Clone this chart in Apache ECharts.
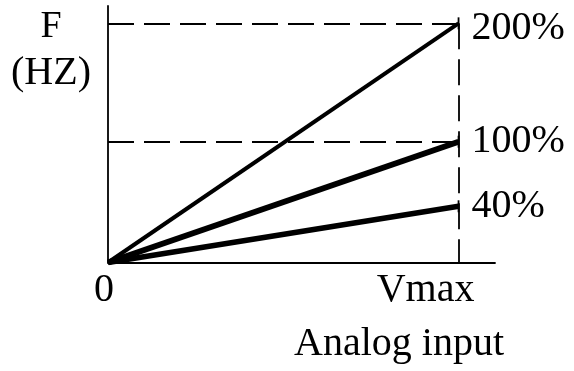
<!DOCTYPE html>
<html>
<head>
<meta charset="utf-8">
<script src="https://cdn.jsdelivr.net/npm/echarts@6/dist/echarts.min.js"></script>
<style>
  html, body { margin: 0; padding: 0; background: #fff; }
  #main { width: 574px; height: 371px; }
</style>
</head>
<body>
<div id="main"></div>
<script>
// 数据
var inputPts = [0, 100];               // 0 和 Vmax
var inputLabels = ['0', 'Vmax'];
var lineNames = ['200%', '100%', '40%'];
var endValues = [200, 101, 47];        // 各曲线在 Vmax 处的频率
var refLevels = [200, 101];            // 虚线参考水平

var FONT = 'Liberation Serif';
var myChart = echarts.init(document.getElementById('main'));

var lineWidths = [4, 6, 5.5];
var seriesList = [];
for (var i = 0; i < lineNames.length; i++) {
	var s = {
		name: lineNames[i],
		type: 'line',
		silent: true,
		data: [
			{value: [inputPts[0], 0], symbol: 'none'},
			{value: [inputPts[1], endValues[i]], symbol: 'rect', symbolSize: [1.8, 12]}
		],
		lineStyle: {color: '#000', width: lineWidths[i]},
		itemStyle: {color: '#000'},
		endLabel: {
			show: true,
			formatter: '{a}',
			fontFamily: FONT,
			fontSize: 40,
			color: '#000',
			distance: 13,
			offset: i === 0 ? [0, 5] : [0, 0]
		}
	};
	seriesList.push(s);
}
//虚线
var dashData = [];
for (var j = 0; j < refLevels.length; j++) {
	dashData.push([{coord: [inputPts[0], refLevels[j]]}, {coord: [inputPts[1], refLevels[j]]}]);
}
dashData.push([{coord: [inputPts[1], refLevels[0]]}, {coord: [inputPts[1], 0]}]);
seriesList[0].markLine = {
	silent: true,
	symbol: ['none', 'none'],
	label: {show: false},
	lineStyle: {color: '#000', width: 1.8, type: [26, 10]},
	data: dashData
};

var option = {
	animation: false,
	title: [
		{text: 'F', left: 51, top: 8, textAlign: 'center', padding: 0,
		 textStyle: {fontFamily: FONT, fontSize: 38, fontWeight: 'normal', color: '#000'}},
		{text: '(HZ)', left: 51, top: 53, textAlign: 'center', padding: 0,
		 textStyle: {fontFamily: FONT, fontSize: 40, fontWeight: 'normal', color: '#000'}},
		{text: 'Analog input', left: 399, top: 324, textAlign: 'center', padding: 0,
		 textStyle: {fontFamily: FONT, fontSize: 40, fontWeight: 'normal', color: '#000'}}
	],
	grid: {left: 108, top: 6, right: 79, bottom: 108.5},
	xAxis: {
		type: 'value',
		min: 0,
		max: 110.4,
		splitLine: {show: false},
		axisTick: {show: false},
		axisLine: {lineStyle: {color: '#000', width: 1.8}},
		axisLabel: {
			customValues: inputPts,
			margin: 8,
			fontFamily: FONT,
			fontSize: 40,
			color: '#000',
			formatter: function (value) {
				return value === 0 ? '{z|' + inputLabels[0] + '}' : '{v|' + inputLabels[1] + '}';
			},
			rich: {
				z: {fontFamily: FONT, fontSize: 40, color: '#000', padding: [0, 8, 0, 0]},
				v: {fontFamily: FONT, fontSize: 40, color: '#000', padding: [0, 66, 0, 0]}
			}
		}
	},
	yAxis: {
		type: 'value',
		min: 0,
		max: 214.5,
		splitLine: {show: false},
		axisTick: {show: false},
		axisLabel: {show: false},
		axisLine: {show: true, lineStyle: {color: '#000', width: 1.8}}
	},
	series: seriesList
};
myChart.setOption(option);
</script>
</body>
</html>
